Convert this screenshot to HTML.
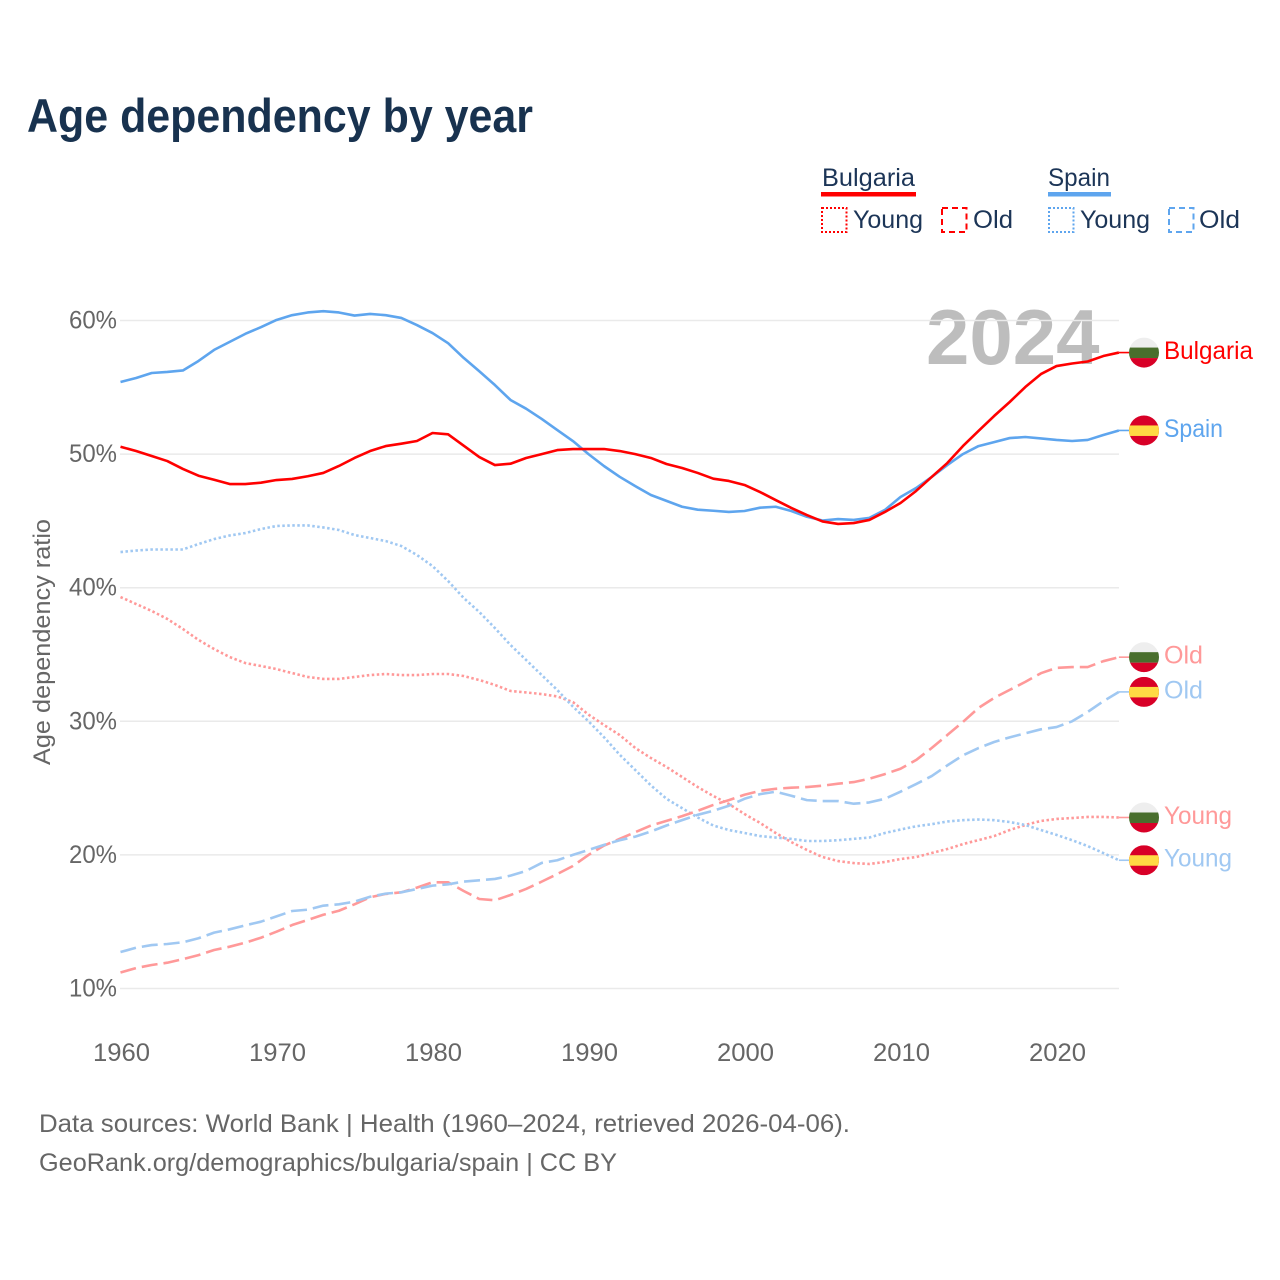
<!DOCTYPE html>
<html lang="en">
<head>
<meta charset="utf-8">
<title>Age dependency by year</title>
<style>
html,body{margin:0;padding:0;background:#fff;}
svg{display:block;font-family:"Liberation Sans",sans-serif;}
</style>
</head>
<body>
<svg id="chart" xmlns="http://www.w3.org/2000/svg" width="1280" height="1280" viewBox="0 0 1280 1280">
  <defs>
    <clipPath id="flag-clip"><circle cx="0" cy="0" r="15"></circle></clipPath>
  </defs>
  <rect x="0" y="0" width="1280" height="1280" fill="#fff"></rect>
  <text x="27" y="132" font-size="47" font-weight="700" fill="#18324f" textLength="506" lengthAdjust="spacingAndGlyphs">Age dependency by year</text>

  <g font-size="25" fill="#1c3557">
    <text x="822" y="186" textLength="93" lengthAdjust="spacingAndGlyphs">Bulgaria</text>
    <rect x="821" y="192" width="95" height="4.5" fill="#ff0000"></rect>
    <rect x="822" y="208" width="24.5" height="24" fill="none" stroke="#ff0000" stroke-width="2" stroke-dasharray="2 2"></rect>
    <text x="853" y="228" textLength="70" lengthAdjust="spacingAndGlyphs">Young</text>
    <rect x="942" y="208" width="24.5" height="24" fill="none" stroke="#ff0000" stroke-width="2" stroke-dasharray="6 4"></rect>
    <text x="973" y="228" textLength="40" lengthAdjust="spacingAndGlyphs">Old</text>
    <text x="1048" y="186" textLength="62" lengthAdjust="spacingAndGlyphs">Spain</text>
    <rect x="1048" y="192" width="63" height="4.5" fill="#5ea5ee"></rect>
    <rect x="1049" y="208" width="24.5" height="24" fill="none" stroke="#5ea5ee" stroke-width="2" stroke-dasharray="2 2"></rect>
    <text x="1080" y="228" textLength="70" lengthAdjust="spacingAndGlyphs">Young</text>
    <rect x="1169" y="208" width="24.5" height="24" fill="none" stroke="#5ea5ee" stroke-width="2" stroke-dasharray="6 4"></rect>
    <text x="1199" y="228" textLength="41" lengthAdjust="spacingAndGlyphs">Old</text>
  </g>

  <text x="926" y="364" font-size="78" font-weight="700" fill="#000" fill-opacity="0.26">2024</text>
  <g id="grid"></g>
  <g id="y-axis"></g>
  <g id="x-axis"></g>
  <text transform="translate(50 642) rotate(-90)" text-anchor="middle" font-size="24" fill="#666" textLength="246" lengthAdjust="spacingAndGlyphs">Age dependency ratio</text>
  <g id="series"></g>
  <g id="end-labels"></g>

  <text x="39" y="1132" font-size="25" fill="#666" textLength="811" lengthAdjust="spacingAndGlyphs">Data sources: World Bank | Health (1960–2024, retrieved 2026-04-06).</text>
  <text x="39" y="1171" font-size="25" fill="#666" textLength="578" lengthAdjust="spacingAndGlyphs">GeoRank.org/demographics/bulgaria/spain | CC BY</text>
</svg>
<script>
const years = [1960,1961,1962,1963,1964,1965,1966,1967,1968,1969,1970,1971,1972,1973,1974,1975,1976,1977,1978,1979,1980,1981,1982,1983,1984,1985,1986,1987,1988,1989,1990,1991,1992,1993,1994,1995,1996,1997,1998,1999,2000,2001,2002,2003,2004,2005,2006,2007,2008,2009,2010,2011,2012,2013,2014,2015,2016,2017,2018,2019,2020,2021,2022,2023,2024];
const bulgariaTotal = [50.55,50.23,49.86,49.48,48.89,48.38,48.08,47.76,47.76,47.86,48.06,48.14,48.34,48.59,49.11,49.71,50.23,50.6,50.78,50.98,51.58,51.48,50.63,49.78,49.18,49.28,49.71,50.0,50.3,50.38,50.38,50.38,50.23,50.0,49.71,49.26,48.96,48.59,48.16,47.99,47.69,47.16,46.56,45.97,45.44,44.96,44.77,44.84,45.07,45.67,46.34,47.24,48.29,49.33,50.6,51.73,52.85,53.9,55.02,55.99,56.59,56.78,56.93,57.34,57.6];
const spainTotal = [55.4,55.7,56.07,56.15,56.26,56.97,57.8,58.4,59.0,59.5,60.04,60.4,60.6,60.7,60.6,60.37,60.49,60.4,60.19,59.66,59.06,58.3,57.2,56.2,55.17,54.05,53.4,52.63,51.8,50.98,50.0,49.1,48.3,47.6,46.94,46.5,46.06,45.84,45.76,45.67,45.74,45.99,46.06,45.74,45.31,45.03,45.14,45.07,45.22,45.82,46.79,47.46,48.29,49.18,50.0,50.6,50.9,51.2,51.28,51.17,51.06,50.98,51.06,51.43,51.77];
const bulgariaYoung = [39.3,38.78,38.26,37.66,36.91,36.09,35.41,34.81,34.36,34.14,33.91,33.61,33.32,33.17,33.17,33.32,33.46,33.54,33.46,33.46,33.54,33.54,33.39,33.09,32.72,32.27,32.16,32.04,31.86,31.44,30.5,29.72,28.97,28.0,27.25,26.58,25.83,25.08,24.41,23.81,23.06,22.39,21.64,20.96,20.37,19.84,19.54,19.39,19.32,19.47,19.69,19.84,20.14,20.44,20.81,21.11,21.41,21.86,22.24,22.54,22.69,22.76,22.84,22.84,22.8];
const spainYoung = [42.67,42.78,42.86,42.86,42.86,43.27,43.64,43.91,44.09,44.39,44.62,44.66,44.66,44.51,44.32,43.94,43.72,43.49,43.12,42.45,41.62,40.5,39.23,38.18,36.98,35.71,34.59,33.46,32.34,31.1,30.0,28.8,27.5,26.35,25.2,24.2,23.5,22.8,22.2,21.86,21.64,21.41,21.3,21.2,21.04,21.04,21.1,21.2,21.3,21.64,21.9,22.14,22.3,22.5,22.6,22.65,22.6,22.46,22.24,21.86,21.5,21.1,20.66,20.14,19.6];
const bulgariaOld = [11.2,11.53,11.76,11.93,12.2,12.5,12.88,13.13,13.43,13.8,14.25,14.75,15.13,15.52,15.82,16.3,16.83,17.08,17.2,17.55,17.95,17.95,17.3,16.7,16.6,17.0,17.45,18.0,18.57,19.17,20.0,20.7,21.2,21.7,22.2,22.55,22.9,23.3,23.74,24.1,24.5,24.8,24.95,25.03,25.08,25.18,25.33,25.45,25.7,26.05,26.45,27.1,28.0,28.97,29.95,31.0,31.75,32.35,32.95,33.6,34.0,34.06,34.06,34.5,34.8];
const spainOld = [12.73,13.05,13.25,13.33,13.46,13.76,14.18,14.43,14.73,15.0,15.4,15.8,15.9,16.2,16.3,16.5,16.87,17.1,17.2,17.45,17.7,17.8,18.0,18.1,18.2,18.45,18.8,19.4,19.6,20.0,20.37,20.75,21.1,21.37,21.75,22.2,22.6,23.0,23.3,23.68,24.2,24.55,24.73,24.43,24.1,24.03,24.03,23.83,23.93,24.2,24.73,25.3,25.9,26.7,27.45,28.0,28.45,28.8,29.1,29.4,29.57,30.0,30.7,31.5,32.2];
const yTicks = [10,20,30,40,50,60];
const yTickLabels = ["10%","20%","30%","40%","50%","60%"];
const xTicks = [1960,1970,1980,1990,2000,2010,2020];
const xTickLabels = ["1960","1970","1980","1990","2000","2010","2020"];

const NS = "http://www.w3.org/2000/svg";
function xScale(year){ return 120.5 + (year - 1960) * 15.6; }
function yScale(v){ return 988.5 - (v - 10) * 13.36; }
function make(tag, attrs, parent){
  const el = document.createElementNS(NS, tag);
  for (const k in attrs) el.setAttribute(k, attrs[k]);
  parent.appendChild(el);
  return el;
}

const gridG = document.getElementById("grid");
const yAxisG = document.getElementById("y-axis");
const xAxisG = document.getElementById("x-axis");
const seriesG = document.getElementById("series");
const endG = document.getElementById("end-labels");

yTicks.forEach(function(t, i){
  const line = make("line", {x1:120, x2:1119, y1:yScale(t), y2:yScale(t), stroke:"#eaeaea", "stroke-width":1.5}, gridG);
  
  
  const label = make("text", {x:69, y:yScale(t)+8, "font-size":25, fill:"#666", textLength:48, lengthAdjust:"spacingAndGlyphs"}, yAxisG);
  label.textContent = yTickLabels[i];
  
  
});

xTicks.forEach(function(t, i){
  const label = make("text", {x:xScale(t)+1, y:1061, "text-anchor":"middle", "font-size":25, fill:"#666", textLength:57, lengthAdjust:"spacingAndGlyphs"}, xAxisG);
  label.textContent = xTickLabels[i];
  
  
});

function linePath(values){
  return values.map(function(v, i){
    return (i ? "L" : "M") + xScale(years[i]).toFixed(2) + " " + yScale(v).toFixed(2);
  }).join(" ");
}

function drawSeries(values, color, width, dash){
  const path = make("path", {d:linePath(values), fill:"none", stroke:color, "stroke-width":width, "stroke-linejoin":"round"}, seriesG);
  if (dash) path.setAttribute("stroke-dasharray", dash);
  const last = yScale(values[values.length - 1]);
  const tail = make("line", {x1:xScale(years[years.length - 1]), x2:1130, y1:last, y2:last, stroke:color, "stroke-width":1.6}, seriesG);
  
  
  return path;
}

function drawFlag(kind, cy){
  const g = make("g", {transform:"translate(1144 " + cy + ")", "clip-path":"url(#flag-clip)"}, endG);
  if (kind === "bg") {
    make("rect", {x:-15, y:-15, width:30, height:30, fill:"#eeeeee"}, g);
    make("rect", {x:-15, y:-5, width:30, height:10.5, fill:"#496e2d"}, g);
    make("rect", {x:-15, y:5.5, width:30, height:10, fill:"#d80027"}, g);
  } else {
    make("rect", {x:-15, y:-15, width:30, height:30, fill:"#d80027"}, g);
    make("rect", {x:-15, y:-5, width:30, height:10.5, fill:"#ffda44"}, g);
  }
  return g;
}

function drawLabel(text, color, cy, w){
  const t = make("text", {x:1164, y:cy+6.5, "font-size":25, fill:color, textLength:w, lengthAdjust:"spacingAndGlyphs"}, endG);
  t.textContent = text;
  return t;
}

const pathBgYoung = drawSeries(bulgariaYoung, "#ff9999", 2.6, "2.5 2.5");


const pathEsYoung = drawSeries(spainYoung, "#a0c8f2", 2.6, "2.5 2.5");


const pathBgOld = drawSeries(bulgariaOld, "#ff9999", 2.6, "16 6");


const pathEsOld = drawSeries(spainOld, "#a0c8f2", 2.6, "16 6");


const pathEsTotal = drawSeries(spainTotal, "#5ea5ee", 2.6, null);


const pathBgTotal = drawSeries(bulgariaTotal, "#ff0000", 2.6, null);



const yBgTotal = yScale(bulgariaTotal[bulgariaTotal.length - 1]);
const yEsTotal = yScale(spainTotal[spainTotal.length - 1]);
const yBgOld = yScale(bulgariaOld[bulgariaOld.length - 1]);
const yEsOld = yScale(spainOld[spainOld.length - 1]);
const yBgYoung = yScale(bulgariaYoung[bulgariaYoung.length - 1]);
const yEsYoung = yScale(spainYoung[spainYoung.length - 1]);

const f1 = drawFlag("bg", yBgTotal);


const f2 = drawFlag("es", yEsTotal);


const f3 = drawFlag("bg", yBgOld);


const f4 = drawFlag("es", yEsOld);


const f5 = drawFlag("bg", yBgYoung);


const f6 = drawFlag("es", yEsYoung);



const l1 = drawLabel("Bulgaria", "#ff0000", yBgTotal, 89);


const l2 = drawLabel("Spain", "#5ea5ee", yEsTotal, 59);


const l3 = drawLabel("Old", "#ff9999", yBgOld, 39);


const l4 = drawLabel("Old", "#a0c8f2", yEsOld, 39);


const l5 = drawLabel("Young", "#ff9999", yBgYoung, 68);


const l6 = drawLabel("Young", "#a0c8f2", yEsYoung, 68);


</script>
</body>
</html>
